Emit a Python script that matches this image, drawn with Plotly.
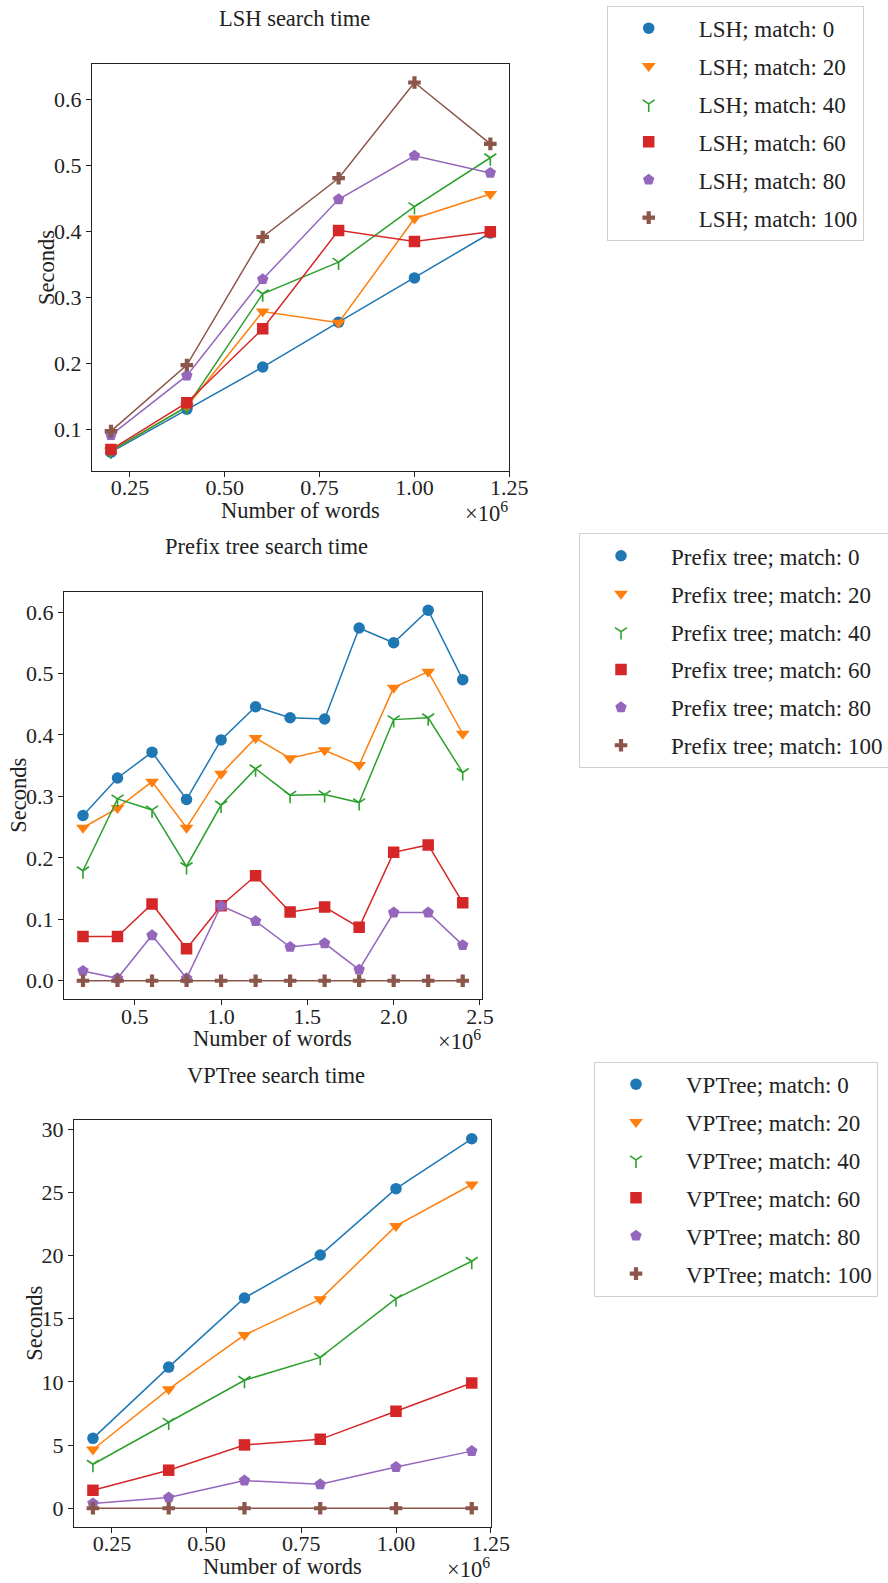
import plotly.graph_objects as go

# ---------------- data ----------------
words_small = [200000, 400000, 600000, 800000, 1000000, 1200000]
words_prefix = [200000, 400000, 600000, 800000, 1000000, 1200000,
                1400000, 1600000, 1800000, 2000000, 2200000, 2400000]
match_levels = [0, 20, 40, 60, 80, 100]

lsh_m0 = [0.066, 0.131, 0.195, 0.263, 0.330, 0.398]
lsh_m20 = [0.068, 0.135, 0.279, 0.262, 0.420, 0.457]
lsh_m40 = [0.068, 0.135, 0.306, 0.354, 0.438, 0.512]
lsh_m60 = [0.070, 0.141, 0.253, 0.402, 0.385, 0.400]
lsh_m80 = [0.092, 0.182, 0.328, 0.449, 0.515, 0.489]
lsh_m100 = [0.098, 0.198, 0.392, 0.481, 0.626, 0.533]

pt_m0 = [0.269, 0.330, 0.372, 0.295, 0.392, 0.446, 0.428, 0.426, 0.574, 0.550, 0.603, 0.490]
pt_m20 = [0.249, 0.281, 0.324, 0.249, 0.337, 0.395, 0.362, 0.375, 0.351, 0.477, 0.503, 0.402]
pt_m40 = [0.179, 0.296, 0.278, 0.186, 0.286, 0.345, 0.302, 0.303, 0.290, 0.425, 0.428, 0.339]
pt_m60 = [0.072, 0.072, 0.125, 0.052, 0.122, 0.171, 0.112, 0.120, 0.087, 0.209, 0.221, 0.127]
pt_m80 = [0.016, 0.004, 0.074, 0.004, 0.122, 0.097, 0.055, 0.061, 0.018, 0.111, 0.111, 0.058]
pt_m100 = [0.0, 0.0, 0.0, 0.0, 0.0, 0.0, 0.0, 0.0, 0.0, 0.0, 0.0, 0.0]

vp_m0 = [5.53, 11.17, 16.64, 20.04, 25.29, 29.24]
vp_m20 = [4.65, 9.42, 13.71, 16.53, 22.34, 25.62]
vp_m40 = [3.48, 6.82, 10.13, 11.94, 16.59, 19.55]
vp_m60 = [1.42, 3.01, 5.01, 5.45, 7.67, 9.91]
vp_m80 = [0.38, 0.85, 2.19, 1.89, 3.26, 4.52]
vp_m100 = [0.0, 0.0, 0.0, 0.0, 0.0, 0.0]

x_ticks_small = [250000, 500000, 750000, 1000000, 1250000]
x_ticktext_small = ["0.25", "0.50", "0.75", "1.00", "1.25"]
x_ticks_prefix = [500000, 1000000, 1500000, 2000000, 2500000]
x_ticktext_prefix = ["0.5", "1.0", "1.5", "2.0", "2.5"]
y_ticks_lsh = [0.1, 0.2, 0.3, 0.4, 0.5, 0.6]
y_ticktext_lsh = ["0.1", "0.2", "0.3", "0.4", "0.5", "0.6"]
y_ticks_pt = [0.0, 0.1, 0.2, 0.3, 0.4, 0.5, 0.6]
y_ticktext_pt = ["0.0", "0.1", "0.2", "0.3", "0.4", "0.5", "0.6"]
y_ticks_vp = [0, 5, 10, 15, 20, 25, 30]
y_ticktext_vp = ["0", "5", "10", "15", "20", "25", "30"]

# ---------------- style / layout ----------------
W, H = 888, 1583
FONT = "Liberation Serif"
FS_TICK = 22
FS_LABEL = 22.5
FS_LEG = 23
TXT = "#222222"
colors = ["#1f77b4", "#ff7f0e", "#2ca02c", "#d62728", "#9467bd", "#8c564b"]
symbols = ["circle", "triangle-down", "y-down", "square", "pentagon", "cross"]
sizes = [11.5, 12, 10, 11.5, 12, 10.5]


def px_x(sx):
    return sx / W


def px_y(sy):
    return 1 - sy / H


panels = [
    dict(name="LSH", title="LSH search time", x=words_small,
         series=[lsh_m0, lsh_m20, lsh_m40, lsh_m60, lsh_m80, lsh_m100],
         box=(92, 509.3, 64, 470.7), title_pos=(294.5, 19), ylab_x=46.7,
         xt=(x_ticks_small, x_ticktext_small), yt=(y_ticks_lsh, y_ticktext_lsh),
         xr=(150000, 1250000), legend_box=(606.7, 5.7)),
    dict(name="Prefix tree", title="Prefix tree search time", x=words_prefix,
         series=[pt_m0, pt_m20, pt_m40, pt_m60, pt_m80, pt_m100],
         box=(64, 481.7, 591.7, 999.3), title_pos=(266.5, 546.7), ylab_x=18.3,
         xt=(x_ticks_prefix, x_ticktext_prefix), yt=(y_ticks_pt, y_ticktext_pt),
         xr=(90000, 2510000), legend_box=(579, 533.3)),
    dict(name="VPTree", title="VPTree search time", x=words_small,
         series=[vp_m0, vp_m20, vp_m40, vp_m60, vp_m80, vp_m100],
         box=(74, 490.7, 1120.3, 1526.7), title_pos=(275.8, 1075), ylab_x=34.3,
         xt=(x_ticks_small, x_ticktext_small), yt=(y_ticks_vp, y_ticktext_vp),
         xr=(150000, 1250000), legend_box=(594, 1061.7)),
]

fig = go.Figure()
annotations = []
layout_axes = {}


def text_font(size):
    return dict(family=FONT, size=size, color=TXT)


for i, p in enumerate(panels):
    n = i + 1
    xa = "x" if n == 1 else f"x{n}"
    ya = "y" if n == 1 else f"y{n}"
    leg = "legend" if n == 1 else f"legend{n}"
    for k, vals in enumerate(p["series"]):
        fig.add_trace(go.Scatter(
            x=p["x"], y=vals, mode="lines", xaxis=xa, yaxis=ya,
            line=dict(color=colors[k], width=1.5), showlegend=False,
            hoverinfo="skip"))
        fig.add_trace(go.Scatter(
            x=p["x"], y=vals, mode="markers", xaxis=xa, yaxis=ya,
            name=f"{p['name']}; match: {match_levels[k]}",
            legend=leg, legendgroup=f"{p['name']}{k}",
            marker=dict(color=colors[k], symbol=symbols[k], size=sizes[k],
                        line=dict(color=colors[k],
                                  width=1.6 if symbols[k] == "y-down" else 0))))
    allv = [v for s in p["series"] for v in s]
    lo, hi = min(allv), max(allv)
    pad = 0.05 * (hi - lo)
    l, r, t, b = p["box"]
    axis_common = dict(showline=True, linecolor=TXT, linewidth=1.1, mirror=True,
                       ticks="outside", ticklen=5, tickwidth=1, tickcolor=TXT,
                       showgrid=False, zeroline=False,
                       tickfont=text_font(FS_TICK))
    layout_axes["xaxis" if n == 1 else f"xaxis{n}"] = dict(
        axis_common, domain=[px_x(l), px_x(r)], anchor=ya, range=list(p["xr"]),
        tickvals=p["xt"][0], ticktext=p["xt"][1], ticklabelstandoff=-8)
    layout_axes["yaxis" if n == 1 else f"yaxis{n}"] = dict(
        axis_common, domain=[px_y(b), px_y(t)], anchor=xa, range=[lo - pad, hi + pad],
        tickvals=p["yt"][0], ticktext=p["yt"][1])
    cx = (l + r) / 2
    annotations.append(dict(text=p["title"], xref="paper", yref="paper",
                            x=px_x(p["title_pos"][0]), y=px_y(p["title_pos"][1]),
                            xanchor="center", yanchor="middle", showarrow=False,
                            font=text_font(FS_LABEL)))
    annotations.append(dict(text="Number of words", xref="paper", yref="paper",
                            x=px_x(cx), y=px_y(b + 39.5),
                            xanchor="center", yanchor="middle", showarrow=False,
                            font=text_font(FS_LABEL)))
    annotations.append(dict(text="Seconds", xref="paper", yref="paper", textangle=-90,
                            x=px_x(p["ylab_x"]), y=px_y((t + b) / 2),
                            xanchor="center", yanchor="middle", showarrow=False,
                            font=text_font(FS_LABEL)))
    annotations.append(dict(text="×10<sup>6</sup>", xref="paper", yref="paper",
                            x=px_x(r + 1), y=px_y(b + 41),
                            xanchor="right", yanchor="middle", showarrow=False,
                            font=text_font(FS_LABEL)))
    layout_axes[leg] = dict(
        x=px_x(p["legend_box"][0]), y=px_y(p["legend_box"][1]),
        xanchor="left", yanchor="top", bgcolor="white",
        bordercolor="#d0d0d0", borderwidth=1,
        font=text_font(FS_LEG),
        itemwidth=90, indentation=-9, tracegroupgap=5, traceorder="grouped")

fig.update_layout(
    width=W, height=H, margin=dict(l=0, r=0, t=0, b=0, autoexpand=False),
    paper_bgcolor="white", plot_bgcolor="white", showlegend=True,
    annotations=annotations, **layout_axes)

# remove the browser's default 8px body margin so the figure fills the window
fig.write_html("out.html", config={"displayModeBar": False},
               post_script="document.body.style.margin='0px';")
